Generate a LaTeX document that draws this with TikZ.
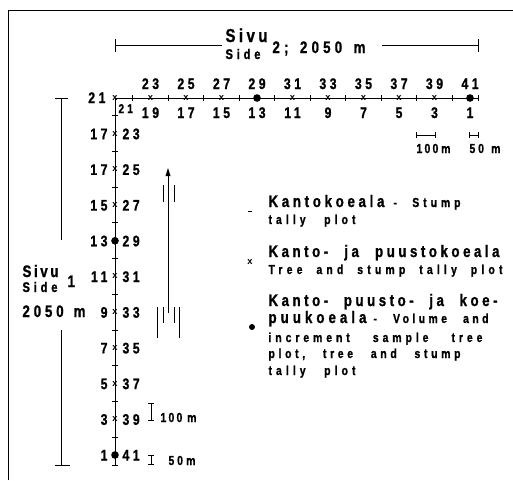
\documentclass[tikz,border=0pt]{standalone}
\usepackage{fontspec}
\setmainfont{Liberation Sans}
\newfontfamily\cndfont[FakeStretch=0.8,BoldFeatures={FakeBold=1}]{Liberation Sans}
% text set to a given width, words spread with \hfill
\newcommand\fitto[2]{\hbox to #1{#2}}

\tikzset{every picture/.style={line width=0.75pt}}
\tikzset{
  numlbl/.style={font=\cndfont\bfseries\fontsize{11.5}{12}\selectfont\addfontfeatures{LetterSpace=23}, inner sep=0pt},
  cornerlbl/.style={font=\cndfont\bfseries\fontsize{9.5}{10}\selectfont\addfontfeatures{LetterSpace=25}, inner sep=0pt},
  bigtxt/.style={font=\cndfont\bfseries\fontsize{12.5}{14}\selectfont\addfontfeatures{LetterSpace=#1}, inner sep=0pt, anchor=base west},
  bigtxt/.default=25,
  smalltxt/.style={font=\cndfont\bfseries\fontsize{9.8}{11}\selectfont\addfontfeatures{LetterSpace=#1}, inner sep=0pt, anchor=base west},
  smalltxt/.default=25,
  sidetxt/.style={font=\cndfont\bfseries\fontsize{10.5}{11}\selectfont, inner sep=0pt, anchor=base west},
  sivutxt/.style={font=\cndfont\bfseries\fontsize{14}{15}\selectfont, inner sep=0pt, anchor=base west},
  xmk/.style={font=\bfseries\fontsize{7}{7}\selectfont, inner sep=0pt}
}

\begin{document}
\begin{tikzpicture}[x=0.75pt,y=0.75pt,yscale=-1,xscale=1]
\useasboundingbox (0,0) rectangle (513,480);

%Frame 
\draw    (8,480) -- (8,10) -- (513,10) ;

%Dimension line: side 2
\draw    (115,39) -- (115,52) (115,45) -- (222,45) ;
\draw    (382,45) -- (478,45) (478,39) -- (478,52) ;
% Text Node
\draw (225,42) node (sivuB) [sivutxt]    {\fitto{31.5pt}{S\hfill i\hfill v\hfill u}};
% Text Node
\draw (225,59) node (sideB) [sidetxt]    {\fitto{26.25pt}{S\hfill i\hfill d\hfill e}};
% Text Node
\draw (272,53) node (lenB) [bigtxt=25]    {\fitto{69.75pt}{2;\hfill 2050\hfill m}};

%Dimension line: side 1
\draw    (55,98) -- (68,98) (61,98) -- (61,240) ;
\draw    (61,330) -- (61,465) (55,465) -- (70,465) ;
% Text Node
\draw (22,277) node (sivuA) [bigtxt]    {\fitto{27pt}{S\hfill i\hfill v\hfill u}};
% Text Node
\draw (22,292) node (sideA) [sidetxt]    {\fitto{26.25pt}{S\hfill i\hfill d\hfill e}};
% Text Node
\draw (67,287) node (numA) [bigtxt]    {1};
% Text Node
\draw (22,317) node (lenA) [bigtxt=23]    {\fitto{47.25pt}{2050\hfill m}};

%Line: side 2 with ticks
\draw    (115,98) -- (478,98) ;
\draw    (132.75,95) -- (132.75,101) (168.25,95) -- (168.25,101) (203.75,95) -- (203.75,101) (239.25,95) -- (239.25,101) (274.75,95) -- (274.75,101) (310.25,95) -- (310.25,101) (345.75,95) -- (345.75,101) (381.25,95) -- (381.25,101) (416.75,95) -- (416.75,101) (452.25,95) -- (452.25,101) (478,95) -- (478,101) ;
%Line: side 1 with ticks
\draw    (115,98) -- (115,465) ;
\draw    (112,115.85) -- (118,115.85) (112,151.55) -- (118,151.55) (112,187.25) -- (118,187.25) (112,222.95) -- (118,222.95) (112,258.65) -- (118,258.65) (112,294.35) -- (118,294.35) (112,330.05) -- (118,330.05) (112,365.75) -- (118,365.75) (112,401.45) -- (118,401.45) (112,437.15) -- (118,437.15) (112,465) -- (118,465) ;

%Plots along side 2
\draw (115,98) node (pB0) [xmk] {x};
\draw (150.5,98) node (pB1) [xmk] {x};
\draw (186,98) node (pB2) [xmk] {x};
\draw (221.5,98) node (pB3) [xmk] {x};
\fill (257,98) circle (3.8);
\draw (292.5,98) node (pB5) [xmk] {x};
\draw (328,98) node (pB6) [xmk] {x};
\draw (363.5,98) node (pB7) [xmk] {x};
\draw (399,98) node (pB8) [xmk] {x};
\draw (434.5,98) node (pB9) [xmk] {x};
\fill (470,98) circle (3.8);
%Plots along side 1
\draw (115,133.7) node (pA1) [xmk] {x};
\draw (115,169.4) node (pA2) [xmk] {x};
\draw (115,205.1) node (pA3) [xmk] {x};
\fill (115,240.8) circle (3.8);
\draw (115,276.5) node (pA5) [xmk] {x};
\draw (115,312.2) node (pA6) [xmk] {x};
\draw (115,347.9) node (pA7) [xmk] {x};
\draw (115,383.6) node (pA8) [xmk] {x};
\draw (115,419.3) node (pA9) [xmk] {x};
\fill (115,455) circle (3.8);

% Text Node
\draw (106,103) node (cA) [numlbl, anchor=base east]    {21};
% Text Node
\draw (118,113) node (cB) [cornerlbl, anchor=base west]    {21};

% Text Node: side 2, above
\draw (150.5,89) node (tB1) [numlbl, anchor=base]    {23};
\draw (186,89) node (tB2) [numlbl, anchor=base]    {25};
\draw (221.5,89) node (tB3) [numlbl, anchor=base]    {27};
\draw (257,89) node (tB4) [numlbl, anchor=base]    {29};
\draw (292.5,89) node (tB5) [numlbl, anchor=base]    {31};
\draw (328,89) node (tB6) [numlbl, anchor=base]    {33};
\draw (363.5,89) node (tB7) [numlbl, anchor=base]    {35};
\draw (399,89) node (tB8) [numlbl, anchor=base]    {37};
\draw (434.5,89) node (tB9) [numlbl, anchor=base]    {39};
\draw (470,89) node (tB10) [numlbl, anchor=base]    {41};
% Text Node: side 2, below
\draw (150.5,118) node (bB1) [numlbl, anchor=base]    {19};
\draw (186,118) node (bB2) [numlbl, anchor=base]    {17};
\draw (221.5,118) node (bB3) [numlbl, anchor=base]    {15};
\draw (257,118) node (bB4) [numlbl, anchor=base]    {13};
\draw (292.5,118) node (bB5) [numlbl, anchor=base]    {11};
\draw (328,118) node (bB6) [numlbl, anchor=base]    {9};
\draw (363.5,118) node (bB7) [numlbl, anchor=base]    {7};
\draw (399,118) node (bB8) [numlbl, anchor=base]    {5};
\draw (434.5,118) node (bB9) [numlbl, anchor=base]    {3};
\draw (470,118) node (bB10) [numlbl, anchor=base]    {1};

% Text Node: side 1, left
\draw (108,139.2) node (lA1) [numlbl, anchor=base east]    {17};
\draw (108,174.9) node (lA2) [numlbl, anchor=base east]    {17};
\draw (108,210.6) node (lA3) [numlbl, anchor=base east]    {15};
\draw (108,246.3) node (lA4) [numlbl, anchor=base east]    {13};
\draw (108,282) node (lA5) [numlbl, anchor=base east]    {11};
\draw (108,317.7) node (lA6) [numlbl, anchor=base east]    {9};
\draw (108,353.4) node (lA7) [numlbl, anchor=base east]    {7};
\draw (108,389.1) node (lA8) [numlbl, anchor=base east]    {5};
\draw (108,424.8) node (lA9) [numlbl, anchor=base east]    {3};
\draw (108,460.5) node (lA10) [numlbl, anchor=base east]    {1};
% Text Node: side 1, right
\draw (122,139.2) node (rA1) [numlbl, anchor=base west]    {23};
\draw (122,174.9) node (rA2) [numlbl, anchor=base west]    {25};
\draw (122,210.6) node (rA3) [numlbl, anchor=base west]    {27};
\draw (122,246.3) node (rA4) [numlbl, anchor=base west]    {29};
\draw (122,282) node (rA5) [numlbl, anchor=base west]    {31};
\draw (122,317.7) node (rA6) [numlbl, anchor=base west]    {33};
\draw (122,353.4) node (rA7) [numlbl, anchor=base west]    {35};
\draw (122,389.1) node (rA8) [numlbl, anchor=base west]    {37};
\draw (122,424.8) node (rA9) [numlbl, anchor=base west]    {39};
\draw (122,460.5) node (rA10) [numlbl, anchor=base west]    {41};

%Scale bars, side 2
\draw    (416,132) -- (416,138) (416,135) -- (435,135) (435,132) -- (435,138) ;
\draw    (469,132) -- (469,138) (469,135) -- (478,135) (478,132) -- (478,138) ;
% Text Node
\draw (416,153) node (sc100B) [smalltxt=17]    {\fitto{25.5pt}{100\hfill m}};
% Text Node
\draw (469,153) node (sc50B) [smalltxt=22]    {\fitto{23.25pt}{50\hfill m}};
%Scale bars, side 1
\draw    (148,403) -- (154,403) (151,403) -- (151,420) (148,420) -- (154,420) ;
\draw    (148,455) -- (154,455) (151,455) -- (151,464) (148,464) -- (154,464) ;
% Text Node
\draw (160,422) node (sc100A) [smalltxt=17]    {\fitto{27pt}{100\hfill m}};
% Text Node
\draw (168,465) node (sc50A) [smalltxt=22]    {\fitto{20.25pt}{50\hfill m}};

%Walking direction
\draw    (168,313) -- (168,172) ;
\draw [shift={(168,168)}, rotate = 90] [fill={rgb, 255:red, 0; green, 0; blue, 0 }  ][line width=0.08]  [draw opacity=0] (8,-2.5) -- (0,0) -- (8,2.5) -- cycle    ;
\draw    (163,185) -- (163,202) (174,185) -- (174,202) ;
\draw    (157,307) -- (157,338) (163,307) -- (163,323) (174,307) -- (174,323) (179,307) -- (179,338) ;

%Legend
\draw    (248,211) -- (252,211) ;
% Text Node
\draw (268,207) node (kanto) [bigtxt=22]    {Kantokoeala};
% Text Node
\draw (393,207) node (kantoEn) [smalltxt=30]    {\fitto{50.25pt}{-\hfill Stump}};
% Text Node
\draw (268,224) node (kantoEn2) [smalltxt=31]    {\fitto{65.25pt}{tally\hfill plot}};
\draw (250,262) node (lgX) [xmk] {x};
% Text Node
\draw (268,257) node (puusto) [bigtxt=21]    {\fitto{173.25pt}{Kanto-\hfill ja\hfill puustokoeala}};
% Text Node
\draw (268,274) node (puustoEn) [smalltxt=32]    {\fitto{175.5pt}{Tree\hfill and\hfill stump\hfill tally\hfill plot}};
\fill (252,327) circle (3);
% Text Node
\draw (268,306) node (koepuu) [bigtxt=21]    {\fitto{171.75pt}{Kanto-\hfill puusto-\hfill ja\hfill koe-}};
% Text Node
\draw (268,323) node (koepuu2) [bigtxt=24]    {puukoeala};
% Text Node
\draw (373,323) node (koepuuEn) [smalltxt=26]    {\fitto{86.25pt}{-\hfill Volume\hfill and}};
% Text Node
\draw (268,342) node (koepuuEn2) [smalltxt=30]    {\fitto{160.5pt}{increment\hfill sample\hfill tree}};
% Text Node
\draw (268,358) node (koepuuEn3) [smalltxt=28]    {\fitto{144pt}{plot,\hfill tree\hfill and\hfill stump}};
% Text Node
\draw (268,375) node (koepuuEn4) [smalltxt=31]    {\fitto{65.25pt}{tally\hfill plot}};

\end{tikzpicture}
\end{document}
